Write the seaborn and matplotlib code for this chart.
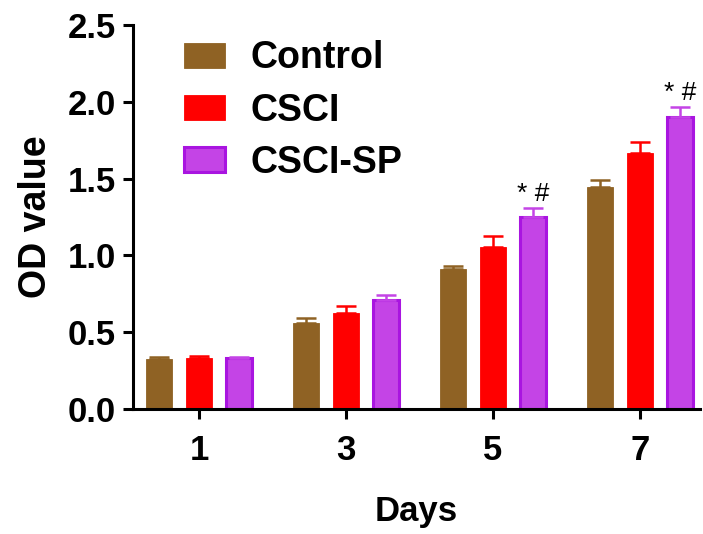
import numpy as np
import pandas as pd
import matplotlib
matplotlib.use("Agg")
import matplotlib.pyplot as plt
import seaborn as sns

# --- DATA ---
days = ["1", "3", "5", "7"]
groups = ["Control", "CSCI", "CSCI-SP"]
control_mean = [0.325, 0.56, 0.913, 1.443]
control_sd = [0.015, 0.035, 0.02, 0.05]
csci_mean = [0.33, 0.627, 1.057, 1.669]
csci_sd = [0.017, 0.043, 0.071, 0.069]
sp_mean = [0.33, 0.71, 1.252, 1.90]
sp_sd = [0.012, 0.035, 0.058, 0.066]
marks = ["", "", "* #", "* #"]

colors = {"Control": "#8F6224", "CSCI": "#FF0000", "CSCI-SP": "#C444E6"}
edges = {"Control": "#8F6224", "CSCI": "#FF0000", "CSCI-SP": "#A915E0"}

sds = [control_sd, csci_sd, sp_sd]
df = pd.DataFrame({
    "Days": days * 3,
    "OD value": control_mean + csci_mean + sp_mean,
    "Group": [g for g in groups for _ in days],
})

sns.set_style("ticks")
plt.rcParams["font.family"] = ["Liberation Sans", "DejaVu Sans"]
plt.rcParams["font.weight"] = "bold"
plt.rcParams["text.color"] = "black"
plt.rcParams["axes.labelcolor"] = "black"
plt.rcParams["xtick.color"] = "black"
plt.rcParams["ytick.color"] = "black"

fig = plt.figure(figsize=(7.03, 5.34), dpi=100)
ax = fig.add_axes([0.189, 0.234, 0.807, 0.719])

sns.barplot(data=df, x="Days", y="OD value", hue="Group", order=days,
            hue_order=groups, palette=colors, saturation=1, errorbar=None,
            width=0.816, gap=0.35, ax=ax, legend=True)

# error bars (upper only) + edges, positioned from the drawn bars
for g, cont, sd in zip(groups, ax.containers, sds):
    xs, tops = [], []
    for p in cont.patches:
        p.set_edgecolor(edges[g])
        p.set_linewidth(2.2 if g == "CSCI-SP" else 0.6)
        xs.append(p.get_x() + p.get_width() / 2)
        tops.append(p.get_height())
    ax.errorbar(xs, tops, yerr=[np.zeros(len(sd)), sd], fmt="none",
                ecolor=colors[g], elinewidth=1.8, capsize=7, capthick=1.8,
                zorder=1)
    if g == "CSCI-SP":
        for x, t, s, m in zip(xs, tops, sd, marks):
            if m:
                ax.text(x, t + s + 0.015, m, ha="center", va="bottom",
                        fontsize=19, fontweight="normal", color="black")

ax.set_xlim(-0.45, 3.41)
ax.set_ylim(0, 2.5)
ax.set_yticks([0, 0.5, 1.0, 1.5, 2.0, 2.5])
ax.set_yticklabels(["0.0", "0.5", "1.0", "1.5", "2.0", "2.5"])
ax.tick_params(axis="both", labelsize=25, width=2.2, length=7)
ax.tick_params(axis="y", pad=5)
ax.tick_params(axis="x", pad=11)
for lab in ax.get_xticklabels() + ax.get_yticklabels():
    lab.set_fontweight("bold")
ax.set_xlabel("Days", fontsize=25, fontweight="bold", labelpad=20)
ax.set_ylabel("OD value", fontsize=27, fontweight="bold", labelpad=10)
sns.despine(ax=ax)
for s in ["left", "bottom"]:
    ax.spines[s].set_linewidth(2.2)
    ax.spines[s].set_color("black")

leg = ax.legend(loc="upper left", bbox_to_anchor=(0.031, 1.048), frameon=False,
                fontsize=27, handlelength=1.1, handleheight=0.67,
                handletextpad=0.67, labelspacing=0.43)
for t in leg.get_texts():
    t.set_fontweight("bold")
for h, g in zip(leg.legend_handles, groups):
    h.set_edgecolor(edges[g])
    h.set_linewidth(2.2 if g == "CSCI-SP" else 0.6)

fig.savefig("out.png", dpi=100)
